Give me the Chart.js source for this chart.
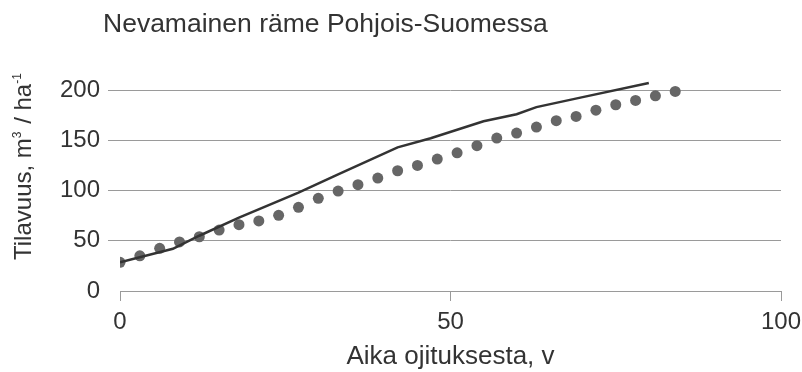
<!DOCTYPE html>
<html>
<head>
<meta charset="utf-8">
<script src="https://cdn.jsdelivr.net/npm/chart.js@4"></script>
<style>
  html, body { margin: 0; padding: 0; background: #fff; }
  #wrap { width: 802px; height: 372px; }
</style>
</head>
<body>
<div id="wrap"><canvas id="salesChart"></canvas></div>
<script>
// Chart texts
const chartTitle = 'Nevamainen räme Pohjois-Suomessa';
const xTitle = 'Aika ojituksesta, v';
// y title pieces: [text, superscript?]
const yTitleParts = [['Tilavuus, m', false], ['3', true], [' / ha', false], ['-1', true]];

// Tick values
const xTicks = [0, 50, 100];
const yTicks = [0, 50, 100, 150, 200];

// Dotted series
const dotYears = [0, 3, 6, 9, 12, 15, 18, 21, 24, 27, 30, 33, 36, 39, 42, 45, 48, 51, 54, 57, 60, 63, 66, 69, 72, 75, 78, 81, 84];
const dotVolumes = [28.5, 35, 42.5, 48.8, 54, 60.7, 66, 69.7, 75.3, 83.3, 92.2, 99.5, 105.8, 112.4, 119.7, 125, 131.3, 137.5, 144.6, 152.2, 157.2, 163.2, 169.5, 173.8, 180, 185.4, 189.7, 194.3, 198.7];

// Solid line series
const lineYears = [0, 8, 12, 18, 27, 33, 42, 47, 55, 60, 63, 70, 80];
const lineVolumes = [28.5, 42, 55, 73, 98, 116, 143, 152, 169, 176, 183, 193, 207];

const textColor = '#333';
const gridColor = '#9a9a9a';
const fontFamily = "'Liberation Sans', Arial, sans-serif";

// Draws chart title and y axis title
const titlesPlugin = {
    id: 'titles',
    afterDraw(chart) {
        const ctx = chart.ctx;
        ctx.save();
        ctx.fillStyle = textColor;
        ctx.textBaseline = 'alphabetic';
        ctx.textAlign = 'left';
        ctx.font = '26.5px ' + fontFamily;
        ctx.fillText(chartTitle, 103, 32);

        ctx.translate(31, 260);
        ctx.rotate(-Math.PI / 2);
        let x = 0;
        yTitleParts.forEach(([txt, sup]) => {
            ctx.font = (sup ? '12px ' : '24px ') + fontFamily;
            ctx.fillText(txt, x, sup ? -10 : 0);
            x += ctx.measureText(txt).width + (sup ? 1 : 0);
        });
        ctx.restore();
    }
};

function buildChart() {
    const ctx = document.getElementById('salesChart').getContext('2d');
    window.chart = new Chart(ctx, {
        type: 'scatter',
        data: {
            datasets: [{
                label: 'line',
                data: lineYears.map((x, i) => ({ x: x, y: lineVolumes[i] })),
                showLine: true,
                borderColor: '#333',
                borderWidth: 2.5,
                pointRadius: 0,
                tension: 0
            },
            {
                label: 'dots',
                data: dotYears.map((x, i) => ({ x: x, y: dotVolumes[i] })),
                showLine: false,
                backgroundColor: '#666',
                borderWidth: 0,
                pointRadius: 5.5
            }]
        },
        options: {
            responsive: true,
            maintainAspectRatio: false,
            animation: false,
            layout: { padding: { top: 75, left: 0, right: 21, bottom: 0 } },
            plugins: {
                legend: { display: false },
                tooltip: { enabled: false }
            },
            scales: {
                x: {
                    type: 'linear',
                    min: 0,
                    max: 100,
                    afterBuildTicks: scale => { scale.ticks = xTicks.map(v => ({ value: v })); },
                    afterFit: scale => {
                        scale.height = 81;
                        scale.paddingLeft = 0;
                        scale.paddingRight = 0;
                    },
                    grid: { drawOnChartArea: false, tickLength: 10, color: gridColor },
                    border: { color: gridColor },
                    ticks: { color: textColor, font: { size: 24, family: fontFamily }, padding: 7, maxRotation: 0 },
                    title: { display: true, text: xTitle, color: textColor, font: { size: 26, family: fontFamily }, padding: { top: 0, bottom: 0 } }
                },
                y: {
                    min: 0,
                    max: 215,
                    afterBuildTicks: scale => { scale.ticks = yTicks.map(v => ({ value: v })); },
                    afterFit: scale => {
                        scale.width = 120;
                        scale.paddingTop = 0;
                        scale.paddingBottom = 0;
                    },
                    grid: {
                        color: c => (c.tick && c.tick.value === 0) ? 'rgba(0,0,0,0)' : gridColor,
                        tickLength: 12
                    },
                    border: { display: false },
                    ticks: { color: textColor, font: { size: 24, family: fontFamily }, padding: 8 }
                }
            }
        },
        plugins: [titlesPlugin]
    });
}

document.addEventListener('DOMContentLoaded', buildChart);
</script>
</body>
</html>
